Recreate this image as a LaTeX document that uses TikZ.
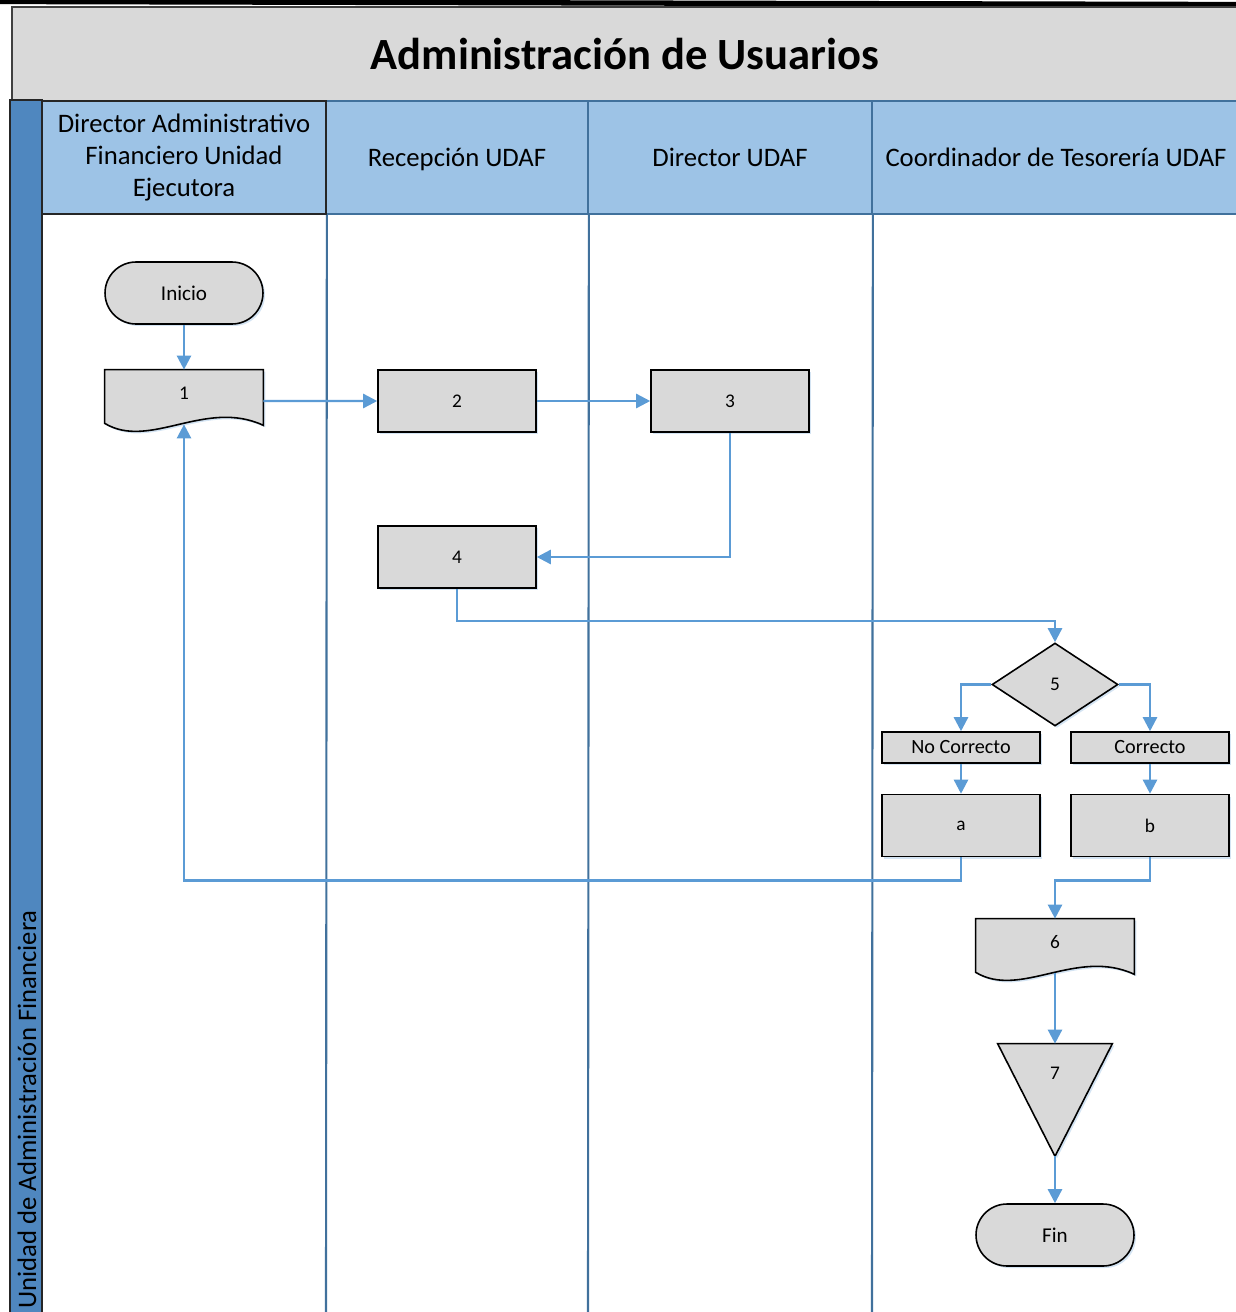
\documentclass[tikz,border=0pt]{standalone}
\usepackage{fontspec}
\setmainfont{Carlito}
\usetikzlibrary{arrows.meta,shapes.geometric,shadows}
\definecolor{titlegray}{HTML}{D9D9D9}
\definecolor{poolblue}{HTML}{4F87BF}
\definecolor{headblue}{HTML}{9DC3E6}
\definecolor{laneline}{HTML}{41719C}
\definecolor{flowblue}{HTML}{5B9BD5}
\definecolor{shapegray}{HTML}{D9D9D9}
\definecolor{glow}{HTML}{C9DDF0}
\pgfdeclarelayer{lanes}
\pgfdeclarelayer{outlines}
\pgfsetlayers{lanes,outlines,main}
\begin{document}
\begin{tikzpicture}[x=0.02cm,y=-0.02cm,
  glowshadow/.style={drop shadow={shadow xshift=0.04cm,shadow yshift=-0.04cm,fill=glow,opacity=0.8}},
  numfont/.style={font=\fontsize{11}{13}\selectfont},
  box/.style={draw=black,line width=0.9pt,fill=shapegray,glowshadow,minimum width=3.16cm,minimum height=1.24cm,inner sep=0pt,numfont},
  tagbox/.style={box,minimum height=0.62cm,font=\fontsize{11.5}{13}\selectfont},
  terminal/.style={box,rounded corners=0.62cm,font=\fontsize{12}{14}\selectfont},
  decision/.style={diamond,draw=black,line width=0.9pt,fill=shapegray,glowshadow,minimum width=2.52cm,minimum height=1.66cm,inner sep=0pt,numfont},
  holder/.style={inner sep=0pt,minimum width=3.16cm,minimum height=0.92cm,numfont},
  outline/.style={draw=black,line width=0.9pt,fill=shapegray,glowshadow,line join=miter},
  flow/.style={draw=flowblue,line width=1.4pt,-{Triangle[length=0.28cm,width=0.28cm]}},
  head/.style={fill=headblue,draw=laneline,line width=1pt,minimum height=2.26cm,inner sep=0pt,align=center,
               font=\fontsize{15.2}{18.2}\selectfont},
  laneedge/.style={draw=laneline,line width=1.2pt}
]
\useasboundingbox (0,0) rectangle (1236,1312);

% ---- pool, title and lane headers ----
\begin{pgfonlayer}{lanes}
  \draw[black,line width=3pt] (0,1.5) -- (1236,4.5);
  \node[fill=titlegray,draw=black!75,line width=0.8pt,minimum width=24.52cm,minimum height=1.88cm,inner sep=0pt,
        font=\fontsize{25.4}{30}\selectfont\bfseries] (title) at (625,54) {Administración de Usuarios};
  \node[fill=poolblue,draw=black!85,line width=1pt,minimum width=0.64cm,minimum height=24.3cm,inner sep=0pt] (pool) at (26,707) {};
  \node[rotate=90,anchor=base west,inner sep=0pt,font=\fontsize{15.2}{18}\selectfont] (poollabel) at (36,1309) {Unidad de Administración Financiera};
  \node[head,minimum width=5.24cm,text depth=0pt] (h2) at (457,157.5) {Recepción UDAF};
  \node[head,minimum width=5.68cm] (h3) at (730,157.5) {Director UDAF};
  \node[head,minimum width=7.36cm] (h4) at (1056,157.5) {Coordinador de Tesorería UDAF};
  \node[head,draw=black!85,minimum width=5.68cm] (h1) at (184,157.5) {Director Administrativo\\Financiero Unidad\\Ejecutora};
  \draw[laneedge] (h1.south east) -- (326,1312);
  \draw[laneedge] (h2.south east) -- (588,1312);
  \draw[laneedge] (h3.south east) -- (872,1312);
\end{pgfonlayer}

% ---- process shapes ----
\node[terminal] (start) at (184,293) {Inicio};
\node[holder] (d1) at (184,393) {1};
\node[box] (p2) at (457,401) {2};
\node[box] (p3) at (730,401) {3};
\node[box] (p4) at (457,557) {4};
\node[decision] (dec) at (1055,684.5) {5};
\node[tagbox] (nc) at (961,747.5) {No Correcto};
\node[tagbox] (ok) at (1150,747.5) {Correcto};
\node[box] (pa) at (961,825.5) {a};
\node[box] (pb) at (1150,825.5) {b};
\node[holder] (d6) at (1055,942) {6};
\node[inner sep=0pt,minimum width=2.28cm,minimum height=2.24cm,
      label={[numfont,yshift=0.54cm]center:7}] (t7) at (1055,1100) {};
\node[terminal] (fin) at (1055,1235) {Fin};

% outlines of the document and merge symbols
\begin{pgfonlayer}{outlines}
  \path[outline] (d1.north west) -- (d1.north east) -- ([yshift=-0.18cm]d1.south east)
     .. controls +(-58,-27) and +(45,27) .. ([yshift=-0.14cm]d1.south west) -- cycle;
  \path[outline] (d6.north west) -- (d6.north east) -- ([yshift=-0.18cm]d6.south east)
     .. controls +(-58,-27) and +(45,27) .. ([yshift=-0.14cm]d6.south west) -- cycle;
  \path[outline] (t7.north west) -- (t7.north east) -- (t7.south) -- cycle;
\end{pgfonlayer}

% ---- connectors ----
\draw[flow] (start.south) -- (d1.north);
\draw[flow] ([yshift=-0.16cm]d1.east) -- (p2.west);
\draw[flow] (p2.east) -- (p3.west);
\draw[flow] (p3.south) |- (p4.east);
\draw[flow] (p4.south) -- ++(0,32) -| (dec.north);
\draw[flow] (dec.west) -| (nc.north);
\draw[flow] (dec.east) -| (ok.north);
\draw[flow] (nc.south) -- (pa.north);
\draw[flow] (ok.south) -- (pb.north);
\draw[flow] (pa.south) -- ++(0,23) -| ([yshift=-0.16cm]d1.south);
\draw[flow] (pb.south) -- ++(0,23) -| (d6.north);
\draw[flow] ([yshift=-0.16cm]d6.south) -- (t7.north);
\draw[flow] (t7.south) -- (fin.north);
\end{tikzpicture}
\end{document}
